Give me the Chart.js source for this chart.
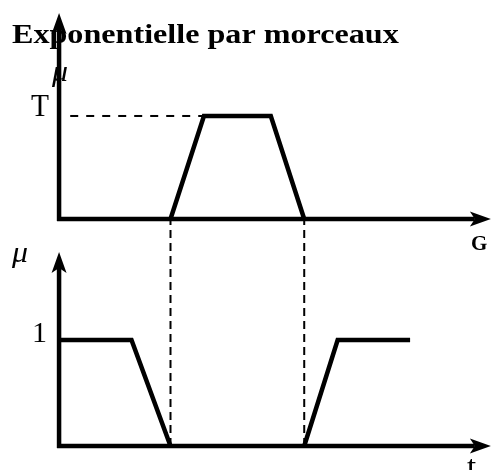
<!DOCTYPE html>
<html>
<head>
<meta charset="utf-8">
<script src="https://cdn.jsdelivr.net/npm/chart.js@4.4.0/dist/chart.umd.min.js"></script>
<style>
    html, body { margin: 0; padding: 0; background: #fff; }
    #wrap { width: 492px; height: 470px; position: relative; }
</style>
</head>
<body>
<div id="wrap"><canvas id="schema" width="492" height="470"></canvas></div>
<script>
// --- Données du schéma ---
const titre = 'Exponentielle par morceaux';

// Haut : fonction d'appartenance trapézoïdale sur G
const gHaut = [10, 13, 19, 22];
const muHaut = [0, 1, 1, 0];
// Pointillé horizontal au niveau T
const gTiret = [1, 13];
const muTiret = [1, 1];

// Bas : deux morceaux (gauche / droite)
const tGauche = [0, 6.5, 10];
const muGauche = [1, 1, 0];
const tDroite = [22, 25, 31.5];
const muDroite = [0, 1, 1];

// Verticales pointillées reliant les deux graphes
const tiretsVert = [10, 22];

// Étiquettes
const tickHaut = ['T'];
const tickBas = ['1'];
const labelsAxes = ['G', 't'];
const labelMu = '\u03BC';

// Longueur des axes (unités des échelles)
const axeMaxX = 38.75;
const axeMaxHaut = 2.0;
const axeMaxBas = 1.83;

const pts = (xs, ys) => xs.map((v, i) => ({ x: v, y: ys[i] }));

// --- Plugin : titre, axes fléchés, pointillés verticaux, étiquettes ---
function fleche(ctx, x0, y0, x1, y1) {
    const ang = Math.atan2(y1 - y0, x1 - x0);
    const L = 21, W = 7.5, N = 5;
    ctx.beginPath();
    ctx.moveTo(x0, y0);
    ctx.lineTo(x1 - Math.cos(ang) * (L - N), y1 - Math.sin(ang) * (L - N));
    ctx.stroke();
    ctx.save();
    ctx.translate(x1, y1);
    ctx.rotate(ang);
    ctx.beginPath();
    ctx.moveTo(0, 0);
    ctx.lineTo(-L, -W);
    ctx.lineTo(-L + N, 0);
    ctx.lineTo(-L, W);
    ctx.closePath();
    ctx.fill();
    ctx.restore();
}

// texte légèrement étiré horizontalement comme dans l'original
function texte(ctx, str, x, y, font, etire) {
    ctx.save();
    ctx.font = font;
    ctx.translate(x, y);
    ctx.scale(etire || 1, 1);
    ctx.fillText(str, 0, 0);
    ctx.restore();
}

const schemaPlugin = {
    id: 'schemaPlugin',
    beforeDatasetsDraw(chart) {
        const ctx = chart.ctx;
        const sx = chart.scales.x, yH = chart.scales.yH, yB = chart.scales.yB;
        ctx.save();
        ctx.fillStyle = '#000';
        ctx.strokeStyle = '#000';
        ctx.textBaseline = 'alphabetic';
        ctx.textAlign = 'left';

        // titre
        texte(ctx, titre, 12, 43, 'bold 27px "Liberation Serif"', 1.19);

        // pointillés verticaux
        ctx.lineWidth = 2;
        ctx.setLineDash([8, 5]);
        tiretsVert.forEach(v => {
            const px = sx.getPixelForValue(v);
            ctx.beginPath();
            ctx.moveTo(px, yB.getPixelForValue(0));
            ctx.lineTo(px, yH.getPixelForValue(0) + 2);
            ctx.stroke();
        });
        ctx.setLineDash([]);

        // axes
        ctx.lineWidth = 4.5;
        const x0 = sx.getPixelForValue(0);
        [[yH, axeMaxHaut], [yB, axeMaxBas]].forEach(([ys, ymax]) => {
            const y0 = ys.getPixelForValue(0);
            fleche(ctx, x0 - 2, y0, sx.getPixelForValue(axeMaxX), y0);
            fleche(ctx, x0, y0 + 2, x0, ys.getPixelForValue(ymax));
        });

        // étiquettes des graduations
        texte(ctx, tickHaut[0], 31, yH.getPixelForValue(1), '31px "Liberation Serif"', 0.95);
        texte(ctx, tickBas[0], 32, yB.getPixelForValue(1) + 2, '30px "Liberation Serif"', 1);

        // mu
        texte(ctx, labelMu, 52, 81, 'italic 29px "Liberation Serif"', 1.1);
        texte(ctx, labelMu, 12, 262, 'italic 29px "Liberation Serif"', 1.1);

        // G et t
        texte(ctx, labelsAxes[0], 471, 250, 'bold 21px "Liberation Serif"', 1);
        texte(ctx, labelsAxes[1], 467, 476, '30px "Liberation Serif"', 1.1);
        ctx.restore();
    }
};

const ligne = (data, axe, extra) => Object.assign({
    data: data,
    yAxisID: axe,
    borderColor: '#000',
    borderWidth: 4.5,
    pointRadius: 0,
    fill: false,
    tension: 0,
    borderJoinStyle: 'miter',
    borderCapStyle: 'butt'
}, extra || {});

new Chart(document.getElementById('schema'), {
    type: 'line',
    data: {
        datasets: [
            ligne(pts(gTiret, muTiret), 'yH', { borderWidth: 2, borderDash: [8, 8] }),
            ligne(pts(gHaut, muHaut), 'yH'),
            ligne(pts(tGauche, muGauche), 'yB'),
            ligne(pts(tDroite, muDroite), 'yB')
        ]
    },
    options: {
        responsive: false,
        animation: false,
        layout: { padding: 0 },
        plugins: { legend: { display: false }, title: { display: false }, tooltip: { enabled: false } },
        scales: {
            x: { type: 'linear', display: false, min: -5.3, max: 38.85 },
            yH: { type: 'linear', display: false, min: -2.437, max: 2.126 },
            yB: { type: 'linear', display: false, min: -0.226, max: 4.208 }
        }
    },
    plugins: [schemaPlugin]
});
</script>
</body>
</html>
